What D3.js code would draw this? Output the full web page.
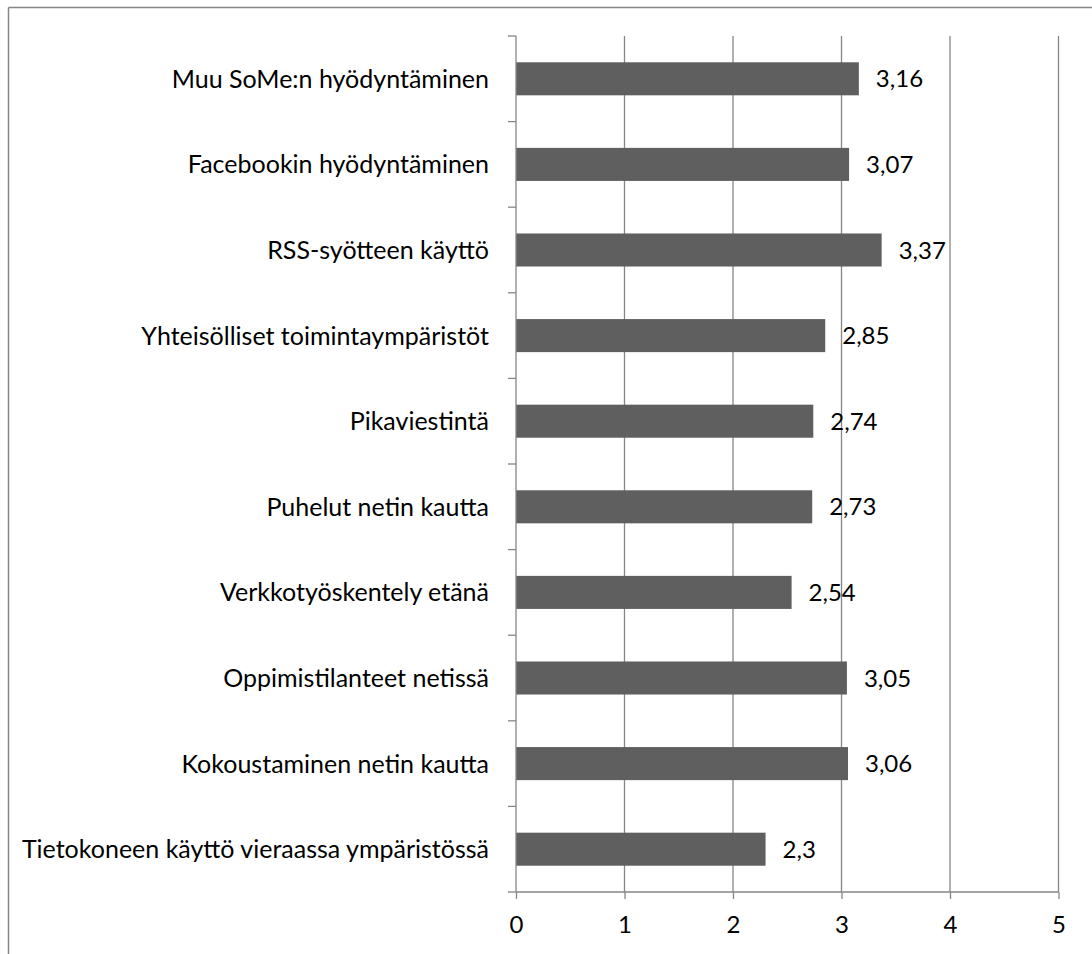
<!DOCTYPE html>
<html>
<head>
<meta charset="utf-8">
<script src="https://cdn.jsdelivr.net/npm/d3@7/dist/d3.min.js"></script>
<style>
html,body{margin:0;padding:0;background:#fff;}
svg{display:block;}
text{font-family:Lato,"Open Sans",sans-serif;fill:#000;}
</style>
</head>
<body>
<svg id="chart" width="1092" height="954"></svg>
<script>
const categories = [
  "Muu SoMe:n hyödyntäminen",
  "Facebookin hyödyntäminen",
  "RSS-syötteen käyttö",
  "Yhteisölliset toimintaympäristöt",
  "Pikaviestintä",
  "Puhelut netin kautta",
  "Verkkotyöskentely etänä",
  "Oppimistilanteet netissä",
  "Kokoustaminen netin kautta",
  "Tietokoneen käyttö vieraassa ympäristössä"
];
const values = [3.16, 3.07, 3.37, 2.85, 2.74, 2.73, 2.54, 3.05, 3.06, 2.3];
const valueLabels = ["3,16", "3,07", "3,37", "2,85", "2,74", "2,73", "2,54", "3,05", "3,06", "2,3"];
const xTicks = [0, 1, 2, 3, 4, 5];

(function () {
const svg = d3.select("#chart");
const pLeft = 516, pRight = 1058.5, pTop = 36, pBottom = 892;
const gray = "#868686";

// outer frame (top & left visible)
svg.append("line").attr("x1", 8.5).attr("x2", 1092).attr("y1", 7.5).attr("y2", 7.5)
  .attr("stroke", gray).attr("stroke-width", 1.5);
svg.append("line").attr("x1", 8.5).attr("x2", 8.5).attr("y1", 7.5).attr("y2", 954)
  .attr("stroke", gray).attr("stroke-width", 1.5);

const x = d3.scaleLinear().domain([0, 5]).range([pLeft, pRight]);
const y = d3.scaleBand().domain(categories).range([pTop, pBottom]).paddingInner(0.614).paddingOuter(0.307);

// gridlines
svg.append("g").selectAll("line").data(xTicks.slice(1)).join("line")
  .attr("x1", d => x(d)).attr("x2", d => x(d))
  .attr("y1", pTop).attr("y2", pBottom)
  .attr("stroke", gray).attr("stroke-width", 1.3);

// bars
svg.append("g").selectAll("rect").data(values).join("rect")
  .attr("x", x(0))
  .attr("y", (d, i) => y(categories[i]))
  .attr("width", d => x(d) - x(0))
  .attr("height", y.bandwidth())
  .attr("fill", "#5f5f5f");

// value labels
svg.append("g").selectAll("text").data(values).join("text")
  .attr("x", d => x(d) + 17)
  .attr("y", (d, i) => y(categories[i]) + y.bandwidth() / 2)
  .attr("dy", "0.36em")
  .attr("font-size", 24)
  .text((d, i) => valueLabels[i]);

// x axis
const xAxis = d3.axisBottom(x).tickValues(xTicks).tickSize(7).tickPadding(17).tickFormat(d3.format("d"));
const gx = svg.append("g").attr("transform", `translate(0,${pBottom})`).call(xAxis);
gx.select(".domain").attr("stroke", gray).attr("stroke-width", 1.3).attr("d", `M${pLeft},0H${pRight}`);
gx.selectAll(".tick line").attr("stroke", gray).attr("stroke-width", 1.3);
gx.selectAll(".tick text").attr("font-size", 24).attr("font-family", "Lato,sans-serif").attr("fill", "#000");

// y axis with boundary ticks
const yEdges = d3.range(categories.length + 1).map(i => pTop + i * (pBottom - pTop) / categories.length);
svg.append("line").attr("x1", pLeft).attr("x2", pLeft).attr("y1", pTop).attr("y2", pBottom)
  .attr("stroke", gray).attr("stroke-width", 1.3);
svg.append("g").selectAll("line").data(yEdges).join("line")
  .attr("x1", pLeft - 8).attr("x2", pLeft).attr("y1", d => d).attr("y2", d => d)
  .attr("stroke", gray).attr("stroke-width", 1.3);

// category labels
svg.append("g").selectAll("text").data(categories).join("text")
  .attr("x", pLeft - 27)
  .attr("y", d => y(d) + y.bandwidth() / 2)
  .attr("dy", "0.36em")
  .attr("text-anchor", "end")
  .attr("font-size", 25)
  .text(d => d);
})();
</script>
</body>
</html>
